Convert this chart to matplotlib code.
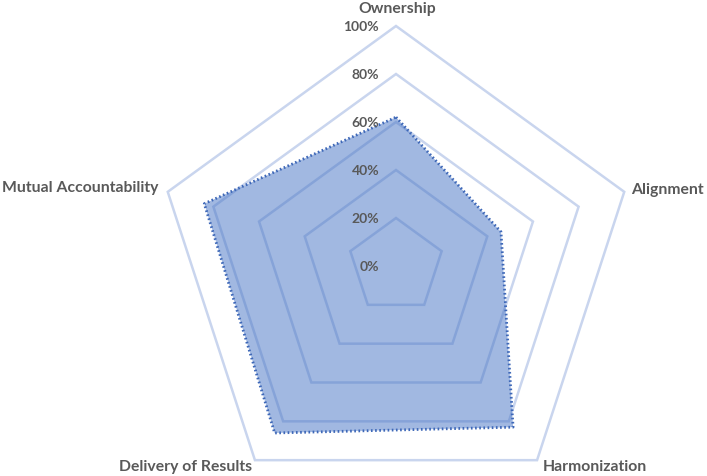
import numpy as np
import matplotlib.pyplot as plt

# data
categories = ["Ownership", "Alignment", "Harmonization", "Delivery of Results", "Mutual Accountability"]
values = [62, 46, 83, 86, 84]
rings = [20, 40, 60, 80, 100]
tick_labels = ["0%", "20%", "40%", "60%", "80%", "100%"]

plt.rcParams['font.family'] = ['Lato', 'DejaVu Sans']

fig = plt.figure(figsize=(7.07, 4.77), dpi=100)
ax = fig.add_axes([0, 0, 1, 1])
ax.set_xlim(-396 / 2.4, (707 - 396) / 2.4)
ax.set_ylim((267 - 477) / 2.4, 267 / 2.4)
ax.axis('off')

n = len(categories)
ang = np.pi / 2 - np.arange(n) * 2 * np.pi / n
ux, uy = np.cos(ang), np.sin(ang)

# grid rings
grid_col = '#c9d5ee'
for r in rings:
    ax.fill(np.r_[ux, ux[0]] * r, np.r_[uy, uy[0]] * r, fill=False,
            edgecolor=grid_col, lw=1.8, zorder=1)

# series
v = np.array(values, dtype=float)
xs, ys = ux * v, uy * v
ax.fill(xs, ys, color='#4472c4', alpha=0.5, lw=0, zorder=2)
ax.plot(np.r_[xs, xs[0]], np.r_[ys, ys[0]], color='#3e68b8', lw=2.0,
        ls=(0, (0.6, 0.9)), zorder=3)

# tick labels
for i, t in enumerate(tick_labels):
    ax.text(-7, i * 20, t, ha='right', va='center', fontsize=10,
            fontweight='bold', color='#595959', zorder=4)

# category labels
tc = '#595959'
fs = 11.3
ax.text(0.5, 107.5, categories[0], ha='center', va='center', fontsize=fs, fontweight='bold', color=tc)
ax.text(98, 32, categories[1], ha='left', va='center', fontsize=fs, fontweight='bold', color=tc)
ax.text(61, -83.5, categories[2], ha='left', va='center', fontsize=fs, fontweight='bold', color=tc)
ax.text(-60, -83.5, categories[3], ha='right', va='center', fontsize=fs, fontweight='bold', color=tc)
ax.text(-99, 33, categories[4], ha='right', va='center', fontsize=fs, fontweight='bold', color=tc)

fig.savefig('out.png', dpi=100)
